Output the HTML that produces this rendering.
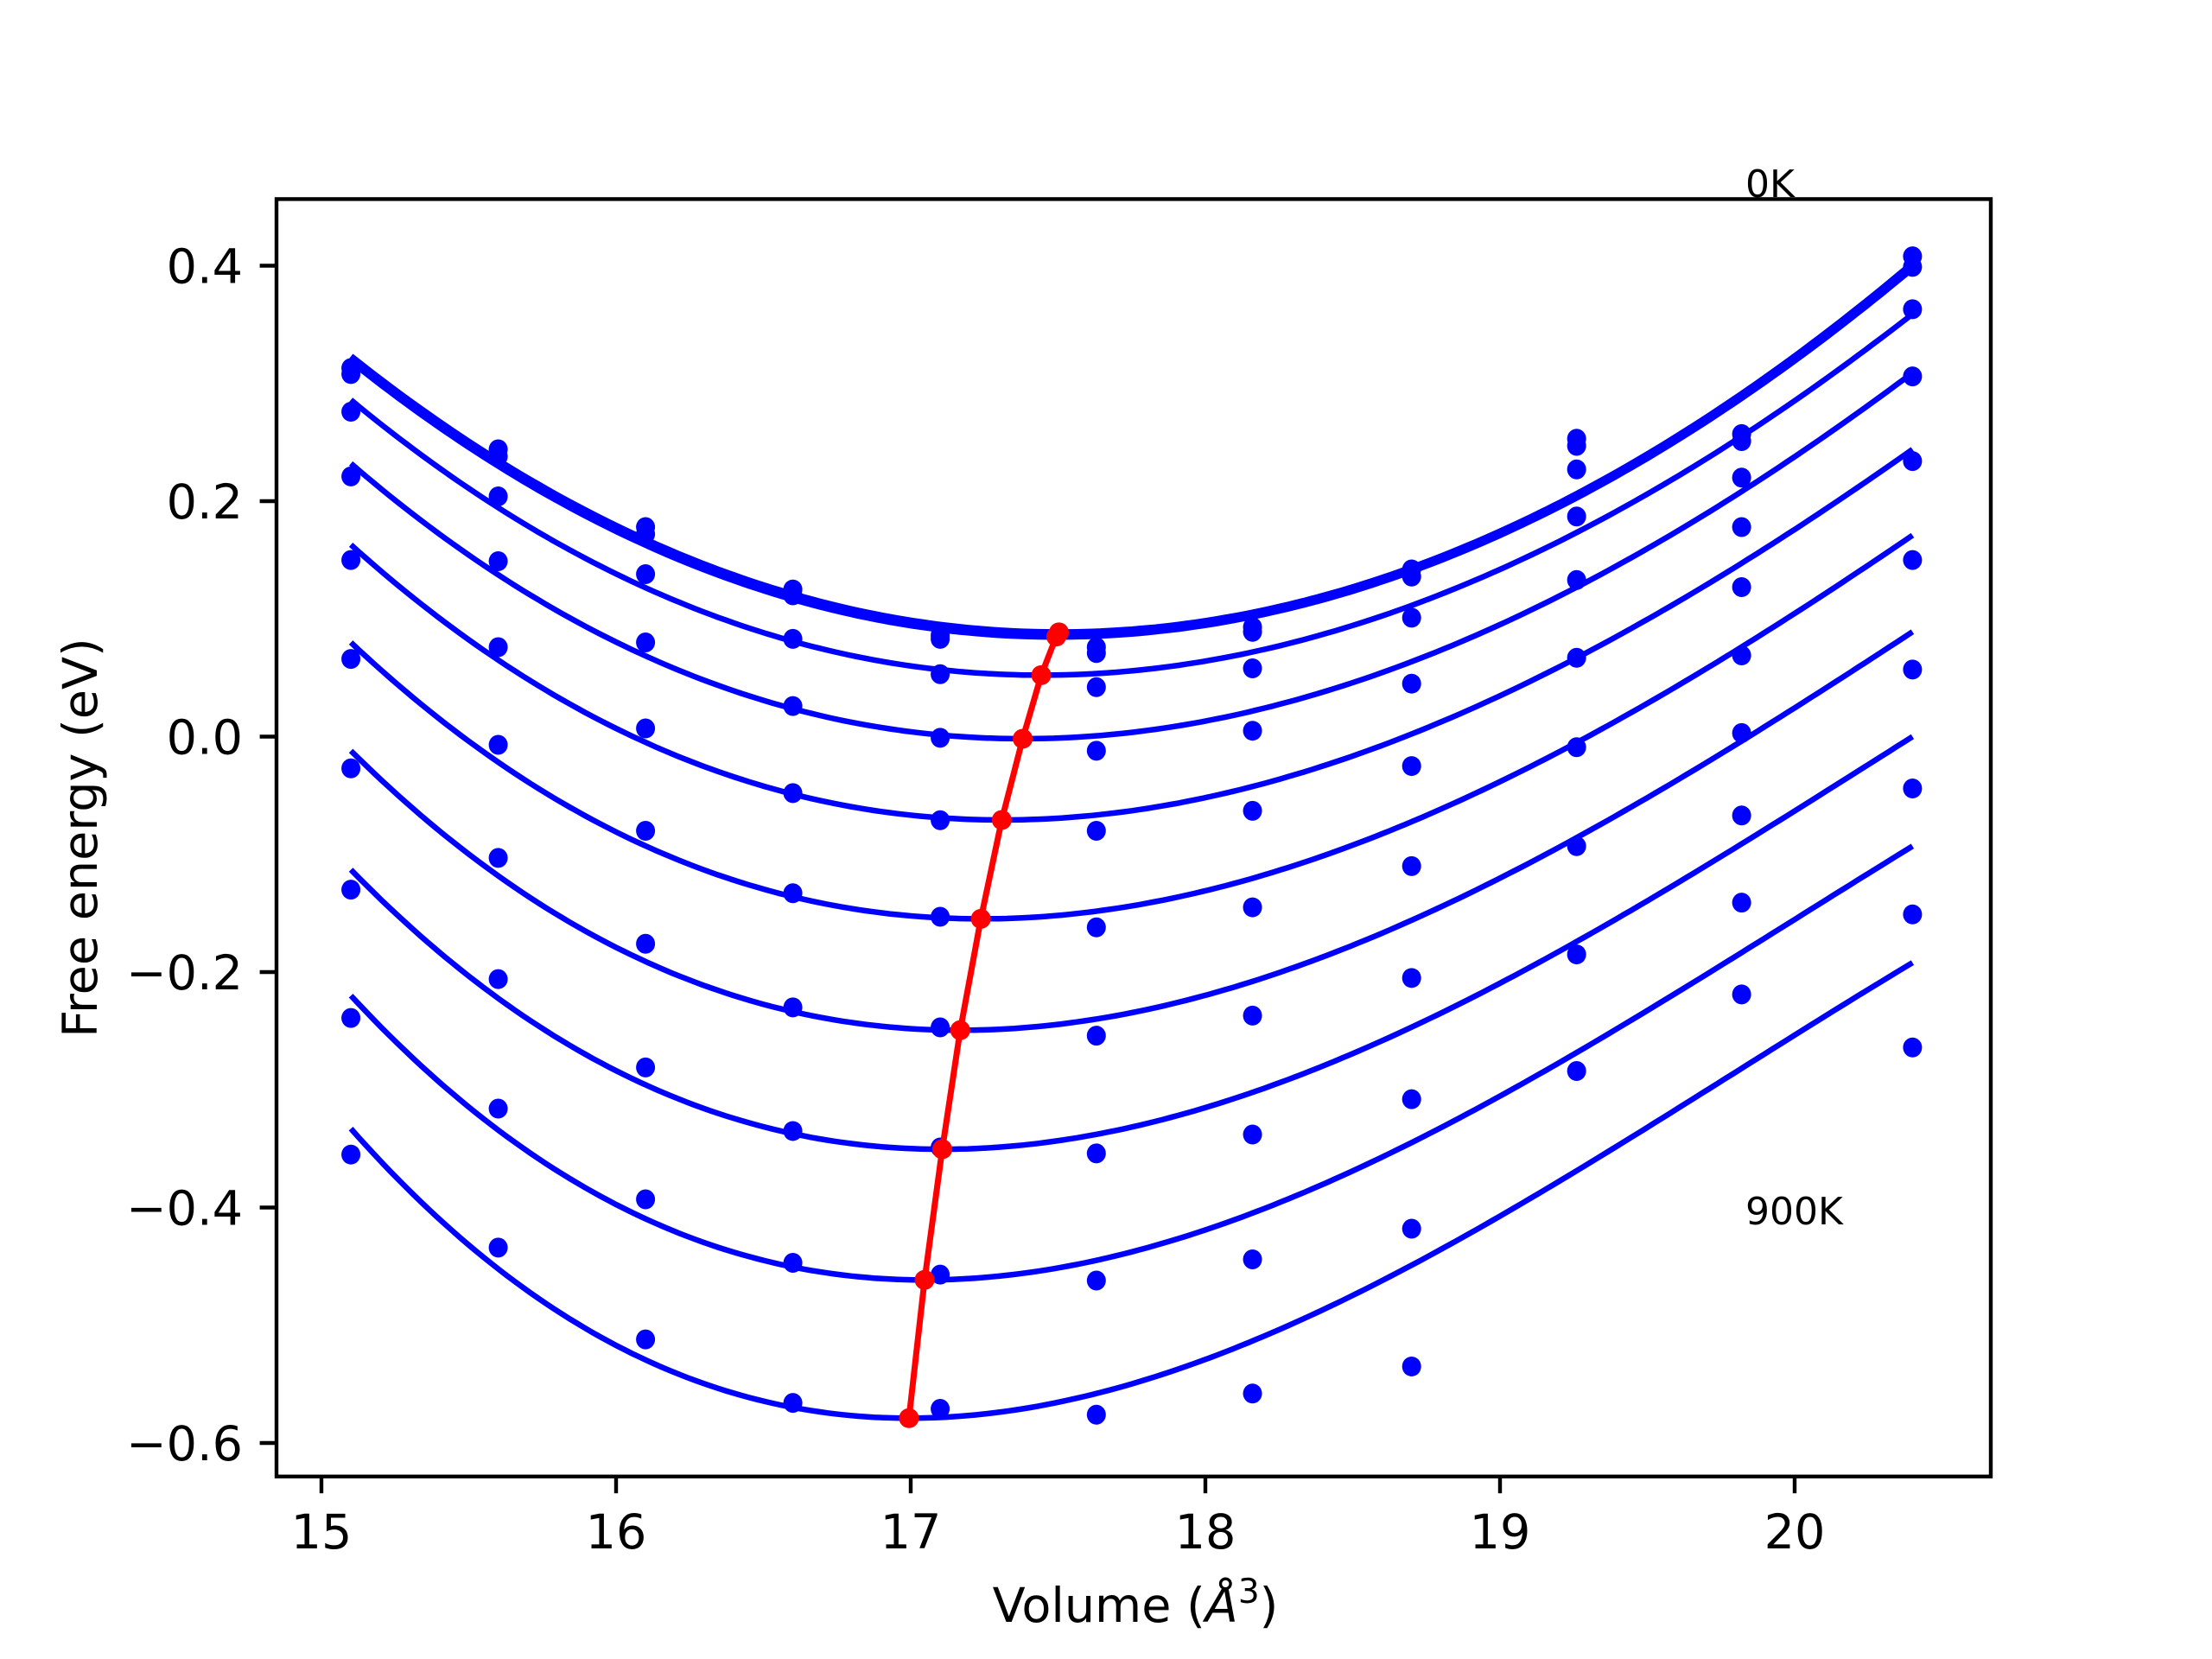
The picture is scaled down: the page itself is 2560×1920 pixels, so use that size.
<!DOCTYPE html>
<html><head><meta charset="utf-8"><style>
html,body{margin:0;padding:0;background:#fff;}
svg{display:block;font-family:"DejaVu Sans","Liberation Sans",sans-serif;}
</style></head><body>
<svg id="chart" width="2560" height="1920" viewBox="0 0 2560 1920" xmlns="http://www.w3.org/2000/svg">
<rect x="0" y="0" width="2560" height="1920" fill="#fff"/>
<g id="plot"></g>
<rect x="320" y="230.4" width="1984" height="1478.4" fill="none" stroke="#000" stroke-width="4.4"/>
<g id="xticks"></g>
<g id="yticks"></g>
<text x="1314" y="1877" text-anchor="middle" font-size="55.6">Volume (<tspan font-style="italic">Å</tspan><tspan font-size="39" dy="-22">3</tspan><tspan dy="22">)</tspan></text>
<text transform="translate(112,969.6) rotate(-90)" text-anchor="middle" font-size="55.6">Free energy (eV)</text>
<text x="2020" y="228" font-size="44">0K</text>
<text x="2020" y="1417" font-size="44">900K</text>
</svg>
<script>
const volumes = [15.1, 15.6, 16.1, 16.6, 17.1, 17.63, 18.16, 18.7, 19.26, 19.82, 20.4];
// data points: one row per volume, one entry per temperature (0..900K)
const pointsByVolume = [
 [0.313,0.308,0.276,0.221,0.150,0.066,-0.027,-0.130,-0.239,-0.355],
 [0.244,0.238,0.204,0.149,0.076,-0.007,-0.103,-0.206,-0.316,-0.434],
 [0.178,0.172,0.138,0.080,0.007,-0.080,-0.176,-0.281,-0.393,-0.512],
 [0.125,0.120,0.083,0.026,-0.048,-0.133,-0.230,-0.335,-0.447,-0.566],
 [0.086,0.083,0.053,-0.001,-0.071,-0.153,-0.247,-0.349,-0.457,-0.571],
 [0.076,0.071,0.042,-0.012,-0.080,-0.162,-0.254,-0.354,-0.462,-0.576],
 [0.093,0.089,0.058,0.005,-0.063,-0.145,-0.237,-0.338,-0.444,-0.558],
 [0.142,0.136,0.101,0.045,-0.025,-0.110,-0.205,-0.308,-0.418,-0.535],
 [0.253,0.247,0.227,0.187,0.133,0.067,-0.009,-0.093,-0.185,-0.284],
 [0.257,0.251,0.220,0.178,0.127,0.069,0.003,-0.067,-0.141,-0.219],
 [0.408,0.399,0.363,0.306,0.234,0.150,0.057,-0.044,-0.151,-0.264]
];
// fitted curve parameters per temperature
const minV = [17.503,17.494,17.443,17.380,17.309,17.238,17.168,17.107,17.047,16.994];
const minE = [0.0885,0.085,0.0522,-0.0018,-0.0708,-0.1548,-0.2494,-0.3505,-0.4615,-0.5789];
const leftE = [0.323,0.319,0.286,0.232,0.163,0.080,-0.012,-0.113,-0.220,-0.333];
const rightE = [0.402,0.398,0.359,0.309,0.244,0.171,0.089,0.000,-0.093,-0.192];
const xTicks = [15,16,17,18,19,20];
const yTicks = [0.4,0.2,0.0,-0.2,-0.4,-0.6];
const yTickLabels = ["0.4","0.2","0.0","\u22120.2","\u22120.4","\u22120.6"];

const NS="http://www.w3.org/2000/svg";
const X = v => 372 + 341*(v-15);
const Y = e => 307.5 + 1362.5*(0.4-e);
const plot=document.getElementById('plot');
function mk(tag, attrs, parent){const el=document.createElementNS(NS,tag);for(const k in attrs)el.setAttribute(k,attrs[k]);parent.appendChild(el);return el;}

const vL=volumes[0], vR=volumes[volumes.length-1];
for(let i=0;i<minV.length;i++){
  const dL=vL-minV[i], dR=vR-minV[i], yL=leftE[i]-minE[i], yR=rightE[i]-minE[i];
  const det=dL*dL*dR*dR*dR - dR*dR*dL*dL*dL;
  const a=(yL*dR*dR*dR - yR*dL*dL*dL)/det;
  const b=(dL*dL*yR - dR*dR*yL)/det;
  let d='';
  for(let k=0;k<=200;k++){
    const v=vL+(vR-vL)*k/200, dv=v-minV[i];
    const e=minE[i]+a*dv*dv+b*dv*dv*dv;
    d+=(k?'L':'M')+X(v).toFixed(1)+' '+Y(e).toFixed(1);
  }
  const p=mk('path',{d:d,fill:'none',stroke:'#0000ff','stroke-width':(i<2?7.5:6.5)},plot);
  
  
}
for(let j=0;j<volumes.length;j++){
  for(let i=0;i<pointsByVolume[j].length;i++){
    const c=mk('ellipse',{cx:X(volumes[j]),cy:Y(pointsByVolume[j][i]),rx:11,ry:11.5,fill:'#0000ff'},plot);
    
    
  }
}
let rd='';
for(let i=0;i<minV.length;i++) rd+=(i?'L':'M')+X(minV[i])+' '+Y(minE[i]);
const rl=mk('path',{d:rd,fill:'none',stroke:'#ff0000','stroke-width':7},plot);


for(let i=0;i<minV.length;i++){
  const c=mk('circle',{cx:X(minV[i]),cy:Y(minE[i]),r:11.5,fill:'#ff0000'},plot);
  
  
}
const xg=document.getElementById('xticks');
xTicks.forEach(t=>{
  const l=mk('line',{x1:X(t),x2:X(t),y1:1708.8,y2:1728.2,stroke:'#000','stroke-width':4.4},xg);
  
  
  const tx=mk('text',{x:X(t),y:1792,'text-anchor':'middle','font-size':55.6},xg);
  
  
  tx.textContent=String(t);
});
const yg=document.getElementById('yticks');
yTicks.forEach((t,i)=>{
  const l=mk('line',{x1:300.6,x2:320,y1:Y(t),y2:Y(t),stroke:'#000','stroke-width':4.4},yg);
  
  
  const tx=mk('text',{x:281,y:Y(t)+20,'text-anchor':'end','font-size':55.6},yg);
  
  
  tx.textContent=yTickLabels[i];
});
</script>
</body></html>
